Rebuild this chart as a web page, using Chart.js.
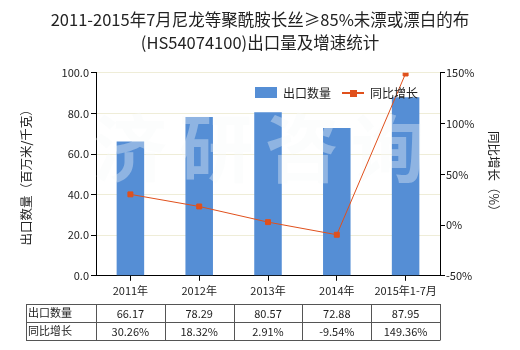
<!DOCTYPE html>
<html>
<head>
<meta charset="utf-8">
<script src="https://cdn.jsdelivr.net/npm/chart.js@4.4.0/dist/chart.umd.min.js"></script>
<style>
  html, body { margin: 0; padding: 0; background: #fff; }
  #wrap { width: 520px; height: 350px; }
</style>
</head>
<body>
<div id="wrap"><canvas id="grafico" width="520" height="350"></canvas></div>
<script>
const categorias = ["2011年", "2012年", "2013年", "2014年", "2015年1-7月"];
const exportacao = [66.17, 78.29, 80.57, 72.88, 87.95];
const crescimento = [30.26, 18.32, 2.91, -9.54, 149.36];
const rotuloExport = ["66.17", "78.29", "80.57", "72.88", "87.95"];
const rotuloCresc = ["30.26%", "18.32%", "2.91%", "-9.54%", "149.36%"];

const FONTE = "'Noto Sans CJK SC', 'Noto Sans', sans-serif";
const AZUL = "#558ed5";
const LARANJA = "#e0501c";

// marca d'agua, desenhada por cima das barras
const marcaAgua = {
  id: "marcaAgua",
  afterDatasetDraw(chart, args) {
    if (args.index !== 1) return;
    const c = chart.ctx;
    c.save();
    c.font = "bold 74px " + FONTE;
    c.fillStyle = "rgba(246,250,250,0.36)";
    c.textAlign = "center";
    c.textBaseline = "middle";
    ["济", "研", "咨", "询"].forEach((t, i) => c.fillText(t, 130 + i * 86, 148));
    c.restore();
  }
};

// legenda dentro da area do grafico
const legenda = {
  id: "legenda",
  afterDraw(chart) {
    const c = chart.ctx;
    c.save();
    c.font = "12px " + FONTE;
    c.textBaseline = "middle";
    c.fillStyle = AZUL;
    c.fillRect(255, 87, 22, 11);
    c.fillStyle = "#222";
    c.fillText("出口数量", 283, 93);
    c.strokeStyle = LARANJA;
    c.lineWidth = 2;
    c.beginPath();
    c.moveTo(342, 93);
    c.lineTo(364, 93);
    c.stroke();
    c.fillStyle = LARANJA;
    c.fillRect(350, 90, 7, 7);
    c.fillStyle = "#222";
    c.fillText("同比增长", 370, 93);
    c.restore();
  }
};

// tabela de dados abaixo do eixo x
const tabela = {
  id: "tabela",
  afterDraw(chart) {
    const c = chart.ctx;
    const x = chart.scales.x;
    const area = chart.chartArea;
    const meio = x.getPixelForValue(1) - x.getPixelForValue(0);
    const bordas = [26, area.left];
    categorias.forEach((_, i) => bordas.push(x.getPixelForValue(i) + meio / 2));
    bordas[bordas.length - 1] = area.right;
    const linhas = [304, 322, 340];
    c.save();
    c.strokeStyle = "#555";
    c.lineWidth = 1;
    c.beginPath();
    linhas.forEach(y => { c.moveTo(bordas[0], y + 0.5); c.lineTo(bordas[bordas.length - 1], y + 0.5); });
    bordas.forEach(b => { const bx = Math.round(b) + 0.5; c.moveTo(bx, linhas[0]); c.lineTo(bx, linhas[2] + 0.5); });
    c.stroke();
    c.font = "11px " + FONTE;
    c.fillStyle = "#222";
    c.textBaseline = "middle";
    c.textAlign = "left";
    c.fillText("出口数量", 28, 313);
    c.fillText("同比增长", 28, 331);
    c.textAlign = "center";
    categorias.forEach((_, i) => {
      const cx = x.getPixelForValue(i);
      c.fillText(rotuloExport[i], cx, 314);
      c.fillText(rotuloCresc[i], cx, 332);
    });
    c.restore();
  }
};

new Chart(document.getElementById("grafico"), {
  data: {
    labels: categorias,
    datasets: [
      {
        type: "line",
        label: "同比增长",
        data: crescimento,
        yAxisID: "y2",
        borderColor: LARANJA,
        backgroundColor: LARANJA,
        borderWidth: 1,
        pointStyle: "rect",
        pointRadius: 3.5,
        tension: 0,
        order: 0
      },
      {
        type: "bar",
        label: "出口数量",
        data: exportacao,
        yAxisID: "y",
        backgroundColor: AZUL,
        barPercentage: 0.4,
        categoryPercentage: 1,
        order: 1
      }
    ]
  },
  options: {
    responsive: false,
    animation: false,
    layout: { padding: { left: 19, right: 19, top: 0, bottom: 50 } },
    plugins: {
      legend: { display: false },
      tooltip: { enabled: false },
      title: {
        display: true,
        text: ["2011-2015年7月尼龙等聚酰胺长丝≥85%未漂或漂白的布", "(HS54074100)出口量及增速统计"],
        color: "#222",
        font: { family: FONTE, size: 16.5, weight: "normal", lineHeight: 1.42 },
        padding: { top: 8, bottom: 18 }
      }
    },
    scales: {
      x: {
        grid: { offset: false, drawOnChartArea: false, tickLength: 5, tickColor: "#000" },
        border: { color: "#000" },
        ticks: { color: "#222", font: { family: FONTE, size: 11 }, padding: 3, maxRotation: 0 }
      },
      y: {
        position: "left",
        min: 0,
        max: 100,
        afterFit: s => { s.width = 77; },
        grid: { color: "#efedd8", tickColor: "#000", tickLength: 5 },
        border: { color: "#000" },
        ticks: {
          stepSize: 20,
          color: "#222",
          padding: 2,
          font: { family: FONTE, size: 11 },
          callback: v => v.toFixed(1)
        },
        title: {
          display: true,
          text: "出口数量（百万米/千克）",
          color: "#222",
          font: { family: FONTE, size: 12.5 },
          padding: 0
        }
      },
      y2: {
        position: "right",
        min: -50,
        max: 150,
        afterFit: s => { s.width = 61; },
        grid: { drawOnChartArea: false, tickColor: "#000", tickLength: 5 },
        border: { color: "#000" },
        ticks: {
          stepSize: 50,
          color: "#222",
          padding: 1,
          font: { family: FONTE, size: 11 },
          callback: v => v + "%"
        },
        title: {
          display: true,
          text: "同比增长（%）",
          color: "#222",
          font: { family: FONTE, size: 12.5 },
          padding: 0
        }
      }
    }
  },
  plugins: [marcaAgua, legenda, tabela]
});
</script>
</body>
</html>
